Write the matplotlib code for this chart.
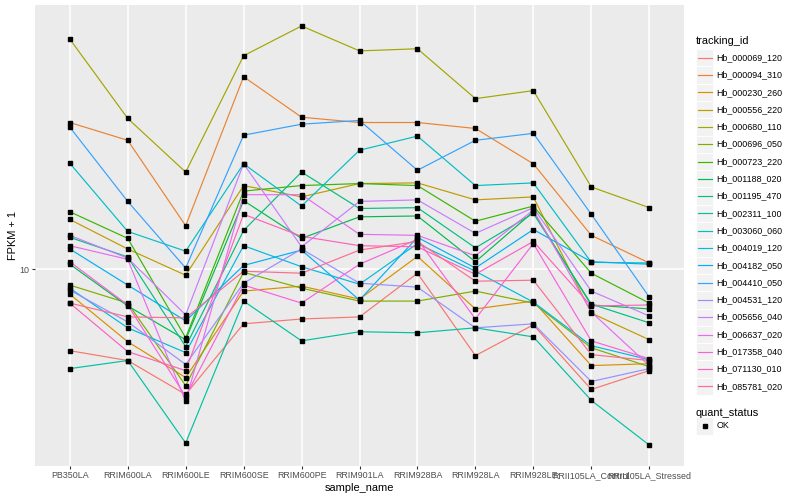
import matplotlib
matplotlib.use("Agg")
import matplotlib.pyplot as plt
from matplotlib.patches import Rectangle
from matplotlib.lines import Line2D
from matplotlib.ticker import NullLocator
import numpy as np

plt.rcParams['font.family'] = ['Liberation Sans', 'DejaVu Sans']

samples = ["PB350LA", "RRIM600LA", "RRIM600LE", "RRIM600SE", "RRIM600PE",
           "RRIM901LA", "RRIM928BA", "RRIM928LA", "RRIM928LE",
           "RRII105LA_Control", "RRII105LA_Stressed"]

tracking_ids = ["Hb_000069_120", "Hb_000094_310", "Hb_000230_260", "Hb_000556_220",
                "Hb_000680_110", "Hb_000696_050", "Hb_000723_220", "Hb_001188_020",
                "Hb_001195_470", "Hb_002311_100", "Hb_003060_060", "Hb_004019_120",
                "Hb_004182_050", "Hb_004410_050", "Hb_004531_120", "Hb_005656_040",
                "Hb_006637_020", "Hb_017358_040", "Hb_071130_010", "Hb_085781_020"]

colors = ["#F8766D", "#EA8331", "#D89000", "#C09B00", "#A3A500", "#7CAE00",
          "#39B600", "#00BB4E", "#00BF7D", "#00C1A3", "#00BFC4", "#00BAE0",
          "#00B0F6", "#35A2FF", "#9590FF", "#C77CFF", "#E76BF3", "#FA62DB",
          "#FF62BC", "#FF6C91"]

# FPKM + 1 per sample (order of `samples`)
hb_000069_120 = [5.33, 4.94, 3.80, 6.56, 6.81, 6.92, 9.70, 5.13, 6.51, 3.95, 4.57]
hb_000094_310 = [31.1, 27.1, 14.0, 44.3, 32.4, 31.1, 31.1, 29.7, 22.6, 13.0, 10.5]
hb_000230_260 = [8.25, 5.71, 4.33, 8.45, 8.78, 7.94, 11.05, 7.36, 7.82, 4.75, 4.82]
hb_000556_220 = [14.7, 11.7, 9.55, 19.1, 17.5, 19.4, 19.5, 17.1, 17.5, 7.13, 5.80]
hb_000680_110 = [59.3, 32.1, 21.2, 52.1, 65.6, 54.1, 55.0, 37.4, 39.8, 18.9, 16.1]
hb_000696_050 = [8.85, 7.70, 4.07, 9.77, 8.64, 7.82, 7.82, 8.45, 7.70, 5.45, 4.71]
hb_000723_220 = [15.6, 12.7, 5.89, 18.3, 19.1, 19.4, 19.1, 14.5, 16.3, 9.70, 7.70]
hb_001188_020 = [10.4, 7.53, 5.80, 17.0, 12.7, 15.0, 15.1, 10.6, 15.6, 7.59, 7.36]
hb_001195_470 = [12.8, 11.0, 5.50, 13.5, 21.2, 16.0, 16.1, 11.8, 15.4, 7.64, 6.61]
hb_002311_100 = [4.64, 4.94, 2.61, 7.82, 5.75, 6.17, 6.12, 6.36, 5.93, 3.63, 2.57]
hb_003060_060 = [22.7, 13.4, 11.5, 22.6, 16.3, 25.1, 28.0, 19.1, 19.5, 10.55, 10.5]
hb_004019_120 = [8.64, 6.36, 5.25, 12.0, 10.2, 8.91, 12.2, 9.85, 7.76, 5.54, 4.97]
hb_004182_050 = [11.7, 8.85, 6.71, 10.3, 11.6, 7.88, 12.8, 10.1, 13.6, 10.6, 10.4]
hb_004410_050 = [30.0, 16.9, 10.1, 28.2, 30.7, 31.6, 21.5, 27.1, 28.6, 15.3, 8.07]
hb_004531_120 = [8.51, 6.66, 4.79, 8.98, 11.7, 8.98, 8.71, 6.36, 6.56, 4.20, 4.64]
hb_005656_040 = [13.0, 10.9, 7.03, 22.6, 11.9, 16.9, 17.1, 13.2, 16.1, 8.45, 6.97]
hb_006637_020 = [12.0, 10.8, 3.60, 17.8, 17.8, 13.1, 13.0, 11.1, 15.8, 7.19, 4.75]
hb_017358_040 = [10.6, 7.59, 3.74, 8.85, 7.70, 10.4, 12.6, 6.81, 12.2, 5.75, 5.01]
hb_071130_010 = [7.70, 5.29, 4.57, 15.3, 12.9, 12.0, 11.9, 9.62, 12.4, 7.53, 7.59]
hb_085781_020 = [7.70, 6.92, 6.87, 9.85, 9.70, 11.6, 12.4, 9.12, 9.19, 5.17, 4.94]

series = [hb_000069_120, hb_000094_310, hb_000230_260, hb_000556_220, hb_000680_110,
          hb_000696_050, hb_000723_220, hb_001188_020, hb_001195_470, hb_002311_100,
          hb_003060_060, hb_004019_120, hb_004182_050, hb_004410_050, hb_004531_120,
          hb_005656_040, hb_006637_020, hb_017358_040, hb_071130_010, hb_085781_020]

quant_status = ["OK"]

W, H = 800, 500
fig = plt.figure(figsize=(W / 100, H / 100), dpi=100)
fig.patch.set_facecolor("white")

L, R, T, B = 35, 684, 5, 466
ax = fig.add_axes([L / W, 1 - B / H, (R - L) / W, (B - T) / H])
ax.set_facecolor("#EBEBEB")

x = np.arange(len(samples))
for vals, col in zip(series, colors):
    ax.plot(x, vals, color=col, lw=0.85, zorder=2, solid_capstyle="butt")
for vals in series:
    ax.plot(x, vals, ls="none", marker="s", ms=2.9, color="black", zorder=3)

ax.set_yscale("log")
allv = np.concatenate([np.asarray(v) for v in series])
lo, hi = np.log10(allv.min()), np.log10(allv.max())
pad = 0.05 * (hi - lo)
ax.set_ylim(10 ** (lo - pad), 10 ** (hi + pad))
ax.set_xlim(-0.6, len(samples) - 0.4)

ax.set_yticks([10])
ax.set_yticklabels(["10"])
ax.yaxis.set_minor_locator(NullLocator())
ax.set_xticks(x)
ax.set_xticklabels(samples)

ax.grid(True, which="major", color="white", lw=1.1)
ax.set_axisbelow(True)
for s in ax.spines.values():
    s.set_visible(False)
ax.tick_params(axis="both", length=2.0, width=0.8, color="#333333",
               labelcolor="#4D4D4D", labelsize=6.4, pad=1.8)

fig.text((L + R) / 2 / W, 1 - 488 / H, "sample_name", ha="center", va="center",
         fontsize=7.9, color="black")
fig.text(13 / W, 1 - ((T + B) / 2) / H, "FPKM + 1", ha="center", va="center",
         rotation=90, fontsize=7.9, color="black")

# legend (manual, ggplot style)
def fx(px):
    return px / W

def fy(py):
    return 1 - py / H

kx0, kw, kh = 696, 17.3, 17.3
fig.text(fx(696), fy(41), "tracking_id", ha="left", va="center", fontsize=7.9)
y0 = 57.7
for i, (tid, col) in enumerate(zip(tracking_ids, colors)):
    yc = y0 + kh * i
    fig.patches.append(Rectangle((fx(kx0), fy(yc + kh / 2)), kw / W, kh / H,
                                 transform=fig.transFigure, facecolor="#F2F2F2",
                                 edgecolor="white", lw=0.6))
    fig.lines.append(Line2D([fx(kx0 + 1.7), fx(kx0 + kw - 1.7)], [fy(yc), fy(yc)],
                            transform=fig.transFigure, color=col, lw=0.85))
    fig.text(fx(716.5), fy(yc), tid, ha="left", va="center", fontsize=6.4)

fig.text(fx(696), fy(413), "quant_status", ha="left", va="center", fontsize=7.9)
for j, qs in enumerate(quant_status):
    yc = 426 + kh * j
    fig.patches.append(Rectangle((fx(kx0), fy(yc + kh / 2)), kw / W, kh / H,
                                 transform=fig.transFigure, facecolor="#F2F2F2",
                                 edgecolor="white", lw=0.6))
    fig.lines.append(Line2D([fx(kx0 + kw / 2)], [fy(yc)], transform=fig.transFigure,
                            ls="none", marker="s", ms=2.9, color="black"))
    fig.text(fx(716.5), fy(yc), qs, ha="left", va="center", fontsize=6.4)

fig.savefig("out.png", dpi=100, facecolor="white")
